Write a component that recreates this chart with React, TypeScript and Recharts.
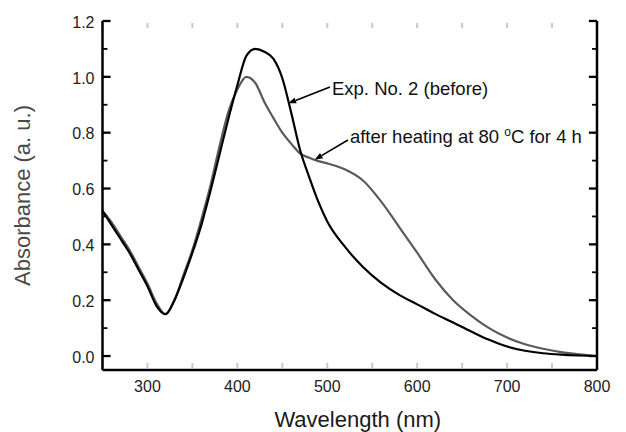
import React from 'react';
import { Line, LineChart, ReferenceLine, XAxis, YAxis } from 'recharts';

// UV-vis spectra, absorbance vs wavelength
const wavelength = [
  250, 260, 270, 280, 290, 300, 310, 320, 330, 340, 350, 360, 370, 380, 390, 400, 410, 420, 430, 440,
  450, 460, 470, 480, 490, 500, 520, 540, 560, 580, 600, 620, 640, 660, 680, 700, 720, 740, 760, 780, 800,
];
const before = [
  0.52, 0.47, 0.42, 0.37, 0.31, 0.25, 0.18, 0.15, 0.2, 0.28, 0.37, 0.47, 0.59, 0.72, 0.85, 0.97, 1.075, 1.1, 1.09, 1.065,
  0.995, 0.87, 0.735, 0.64, 0.553, 0.482, 0.39, 0.318, 0.262, 0.219, 0.185, 0.151, 0.12, 0.088, 0.058, 0.034, 0.019, 0.01, 0.005, 0.002, 0.0,
];
const afterHeating = [
  0.52, 0.48, 0.43, 0.38, 0.32, 0.26, 0.19, 0.15, 0.2, 0.29, 0.38, 0.49, 0.61, 0.75, 0.875, 0.955, 1.0, 0.978, 0.91, 0.853,
  0.8, 0.76, 0.725, 0.71, 0.698, 0.69, 0.668, 0.628, 0.553, 0.462, 0.37, 0.275, 0.2, 0.145, 0.1, 0.066, 0.042, 0.026, 0.014, 0.006, 0.0,
];

const xTicks = [250, 300, 350, 400, 450, 500, 550, 600, 650, 700, 750, 800];
const xLabels = [300, 400, 500, 600, 700, 800];
const yTicks = [0, 0.1, 0.2, 0.3, 0.4, 0.5, 0.6, 0.7, 0.8, 0.9, 1.0, 1.1, 1.2];
const yLabels = [0, 0.2, 0.4, 0.6, 0.8, 1.0, 1.2];

const FONT = '"Liberation Sans", Arial, sans-serif';
const X_MIN = 250;
const X_MAX = 800;

const data = wavelength.map((w, i) => ({ w, before: before[i], after: afterHeating[i] }));

const isMajorY = (v: number) => Math.round(v * 10) % 2 === 0;

function LeftLabel(props: any) {
  const v = Number(props.payload.value);
  return (
    <text x={Number(props.x) - 8} y={Number(props.y)} dy="0.42em" textAnchor="end" fontSize={16} fontFamily={FONT} fill="#222">
      {v.toFixed(1)}
    </text>
  );
}

function RightLabel(props: any) {
  const v = Number(props.payload.value);
  return (
    <text x={Number(props.x) + 5} y={Number(props.y)} dy="0.42em" textAnchor="start" fontSize={16} fontFamily={FONT} fill="#222">
      {v.toFixed(1)}
    </text>
  );
}

function BottomLabel(props: any) {
  return (
    <text x={Number(props.x)} y={Number(props.y) + 21.5} textAnchor="middle" fontSize={16} fontFamily={FONT} fill="#222">
      {props.payload.value}
    </text>
  );
}

// faint inward stubs along the top and bottom edges
function xStub(p: any) {
  const x = Number(p.x1);
  const top = Math.min(Number(p.y1), Number(p.y2));
  const bottom = Math.max(Number(p.y1), Number(p.y2));
  return (
    <path d={`M${x},${bottom - 2}V${bottom - 7}M${x},${top + 2}V${top + 7}`} stroke="#c8c8c8" strokeWidth={2} fill="none" />
  );
}

// Arrow from the label (first segment point) to the curve (second point)
function annotation(label: React.ReactNode, textDx: number, textDy: number) {
  return (p: any) => {
    const x1 = Number(p.x1);
    const y1 = Number(p.y1);
    const x2 = Number(p.x2);
    const y2 = Number(p.y2);
    const ang = Math.atan2(y2 - y1, x2 - x1);
    const len = 8;
    const half = 3;
    const bx = x2 - len * Math.cos(ang);
    const by = y2 - len * Math.sin(ang);
    const nx = -Math.sin(ang) * half;
    const ny = Math.cos(ang) * half;
    return (
      <g>
        <line x1={x1} y1={y1} x2={bx} y2={by} stroke="#000" strokeWidth={1.6} />
        <polygon points={`${x2},${y2} ${bx + nx},${by + ny} ${bx - nx},${by - ny}`} fill="#000" />
        <text x={x1 + textDx} y={y1 + textDy} fontSize={18.5} fontFamily={FONT} fill="#111">
          {label}
        </text>
      </g>
    );
  };
}

export default function App() {
  return (
    <div style={{ position: 'absolute', left: 0, top: 0, background: '#fff' }}>
      <LineChart width={626} height={432} data={data} margin={{ top: 21, right: 0, bottom: 0, left: 0 }}>
        <XAxis
          dataKey="w"
          type="number"
          domain={[X_MIN, X_MAX]}
          ticks={xLabels}
          interval={0}
          height={62}
          tickSize={0}
          tickMargin={0}
          axisLine={{ stroke: '#000', strokeWidth: 2.5 }}
          tick={<BottomLabel />}
          label={{
            value: 'Wavelength (nm)',
            content: ({ viewBox }: any) => (
              <text
                x={viewBox.x + viewBox.width / 2 + 8}
                y={viewBox.y + viewBox.height - 5}
                textAnchor="middle"
                fontSize={22}
                fontFamily={FONT}
                fill="#1a1a1a"
              >
                Wavelength (nm)
              </text>
            ),
          }}
        />
        <XAxis
          xAxisId="top"
          orientation="top"
          dataKey="w"
          type="number"
          domain={[X_MIN, X_MAX]}
          height={0}
          tick={false}
          tickLine={false}
          axisLine={{ stroke: '#000', strokeWidth: 2.5 }}
        />
        <YAxis
          type="number"
          domain={[-0.05, 1.2]}
          ticks={yLabels}
          interval={0}
          width={102.5}
          tickSize={0}
          tickMargin={0}
          axisLine={{ stroke: '#000', strokeWidth: 2.5 }}
          tick={<LeftLabel />}
          label={{
            value: 'Absorbance (a. u.)',
            content: ({ viewBox }: any) => {
              const cx = viewBox.x + 22.5;
              const cy = viewBox.y + viewBox.height / 2;
              return (
                <text
                  x={cx}
                  y={cy}
                  transform={`rotate(-90 ${cx} ${cy})`}
                  textAnchor="middle"
                  dominantBaseline="central"
                  fontSize={22}
                  fontFamily={FONT}
                  fill="#4a4a4a"
                >
                  Absorbance (a. u.)
                </text>
              );
            },
          }}
        />
        <YAxis
          yAxisId="right"
          orientation="right"
          type="number"
          domain={[-0.05, 1.2]}
          ticks={yLabels}
          interval={0}
          width={29}
          tickSize={0}
          tickMargin={0}
          axisLine={{ stroke: '#000', strokeWidth: 2.5 }}
          tick={<RightLabel />}
        />
        {/* inward tick marks on the left and right frame edges */}
        {yTicks.map((v) => {
          const span = isMajorY(v) ? 9 : 5.5;
          const width = isMajorY(v) ? 2.3 : 1.8;
          return (
            <React.Fragment key={`y${v}`}>
              <ReferenceLine
                segment={[
                  { x: X_MIN, y: v },
                  { x: X_MIN + span, y: v },
                ]}
                stroke="#000"
                strokeWidth={width}
                ifOverflow="visible"
              />
              <ReferenceLine
                segment={[
                  { x: X_MAX - span, y: v },
                  { x: X_MAX, y: v },
                ]}
                stroke="#000"
                strokeWidth={width}
                ifOverflow="visible"
              />
            </React.Fragment>
          );
        })}
        {xTicks.map((v) => (
          <ReferenceLine key={`x${v}`} x={v} shape={xStub} />
        ))}
        <Line
          type="monotone"
          dataKey="after"
          stroke="#5a5a5a"
          strokeWidth={2.2}
          dot={false}
          isAnimationActive={false}
        />
        <Line
          type="monotone"
          dataKey="before"
          stroke="#000"
          strokeWidth={2.2}
          dot={false}
          isAnimationActive={false}
        />
        <ReferenceLine
          segment={[
            { x: 503, y: 0.964 },
            { x: 456.5, y: 0.905 },
          ]}
          shape={annotation('Exp. No. 2 (before)', 2, 8)}
        />
        <ReferenceLine
          segment={[
            { x: 523, y: 0.774 },
            { x: 486, y: 0.703 },
          ]}
          shape={annotation(
            <>
              after heating at 80 <tspan fontSize={12} dy={-7}>o</tspan>
              <tspan dy={7}>C for 4 h</tspan>
            </>,
            2,
            3,
          )}
        />
      </LineChart>
    </div>
  );
}
